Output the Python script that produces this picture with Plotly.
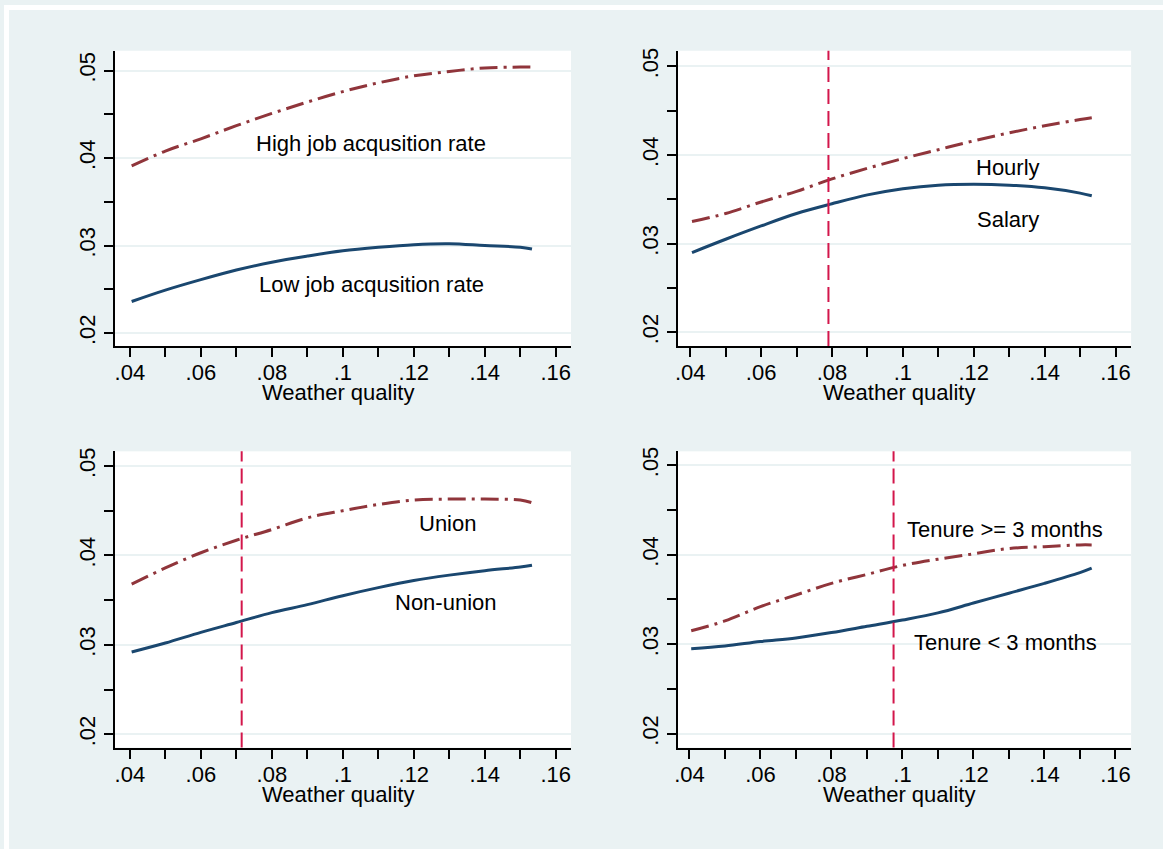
import plotly.graph_objects as go

# ---------------- data ----------------
weather = [0.0405, 0.05, 0.06, 0.07, 0.08, 0.09, 0.10, 0.11, 0.12, 0.13, 0.14, 0.15, 0.1533]

high_acq = [0.0391, 0.0408, 0.0422, 0.0437, 0.0451, 0.0464, 0.0476, 0.0486, 0.0494, 0.0499, 0.0503, 0.0504, 0.0504]
low_acq = [0.0236, 0.0249, 0.0261, 0.0272, 0.0281, 0.0288, 0.0294, 0.0298, 0.0301, 0.0302, 0.0300, 0.0298, 0.0296]

hourly = [0.0325, 0.0334, 0.0347, 0.0359, 0.0373, 0.0385, 0.0396, 0.0406, 0.0416, 0.0425, 0.0433, 0.0440, 0.0442]
salary = [0.0290, 0.0305, 0.0320, 0.0334, 0.0345, 0.0355, 0.0362, 0.0366, 0.0367, 0.0366, 0.0363, 0.0357, 0.0354]

union = [0.0368, 0.0386, 0.0403, 0.0417, 0.0429, 0.0442, 0.0450, 0.0457, 0.0462, 0.0463, 0.0463, 0.0462, 0.0459]
non_union = [0.0292, 0.0302, 0.0314, 0.0325, 0.0336, 0.0345, 0.0355, 0.0364, 0.0372, 0.0378, 0.0383, 0.0387, 0.0389]

tenure_long = [0.0315, 0.0326, 0.0342, 0.0355, 0.0368, 0.0378, 0.0388, 0.0395, 0.0401, 0.0407, 0.0409, 0.0411, 0.0411]
tenure_short = [0.0295, 0.0298, 0.0303, 0.0307, 0.0313, 0.0320, 0.0327, 0.0335, 0.0346, 0.0357, 0.0368, 0.0380, 0.0385]

# cutoff (vertical dashed line) per panel; None = no line
cutoffs = [None, 0.079, 0.0715, 0.0975]

# labels
red_labels = ["High job acqusition rate", "Hourly", "Union", "Tenure >= 3 months"]
blue_labels = ["Low job acqusition rate", "Salary", "Non-union", "Tenure < 3 months"]
red_label_pos = [(0.108, 0.0417), (0.1298, 0.0386), (0.1294, 0.0436), (0.1288, 0.0428)]
blue_label_pos = [(0.108, 0.0256), (0.1297, 0.0327), (0.1292, 0.0347), (0.1289, 0.0302)]

x_title = "Weather quality"
x_tickvals = [0.04, 0.06, 0.08, 0.10, 0.12, 0.14, 0.16]
x_ticktext = [".04", ".06", ".08", ".1", ".12", ".14", ".16"]
y_tickvals = [0.02, 0.03, 0.04, 0.05]
y_ticktext = [".02", ".03", ".04", ".05"]

red_series = [high_acq, hourly, union, tenure_long]
blue_series = [low_acq, salary, non_union, tenure_short]

# ---------------- styling ----------------
W, H = 1163, 849
BG = "#eaf2f3"
RED = "#90353b"
BLUE = "#1a476f"
CUT = "#d3164b"
FONT = "Liberation Sans, Arial, sans-serif"
FS = 22

# pixel boxes of the four plot regions: (left, right, top, bottom)
boxes = [(111, 569, 46, 343), (676, 1131, 46, 343), (111, 569, 449, 747), (676, 1131, 449, 747)]
x_ranges = [[0.0357, 0.1643], [0.03646, 0.1644], [0.0357, 0.1643], [0.03669, 0.16441]]
y_ranges = [[0.01852, 0.05227], [0.01846, 0.05176], [0.01851, 0.05164], [0.01845, 0.05155]]

fig = go.Figure()
layout = dict(
    width=W, height=H,
    margin=dict(l=0, r=0, t=0, b=0),
    paper_bgcolor=BG, plot_bgcolor="white",
    showlegend=False,
    font=dict(family=FONT, size=FS, color="black"),
    annotations=[], shapes=[],
)

for i in range(4):
    n = "" if i == 0 else str(i + 1)
    xa, ya = "x" + n, "y" + n
    l, r, t, b = boxes[i]
    xdom = [l / W, r / W]
    ydom = [1 - b / H, 1 - t / H]
    layout["xaxis" + n] = dict(
        domain=xdom, anchor=ya, range=x_ranges[i],
        tickmode="array", tickvals=x_tickvals, ticktext=x_ticktext,
        ticks="outside", ticklen=9, tickwidth=2, tickcolor="black",
        ticklabelstandoff=-3,
        minor=dict(tickmode="linear", tick0=0.04, dtick=0.01, ticks="outside",
                   ticklen=9, tickwidth=2, tickcolor="black", showgrid=False),
        showline=True, linewidth=2, linecolor="black",
        showgrid=False, zeroline=False,
        tickfont=dict(family=FONT, size=FS, color="black"),
    )
    layout["yaxis" + n] = dict(
        domain=ydom, anchor=xa, range=y_ranges[i],
        tickmode="array", tickvals=y_tickvals, ticktext=y_ticktext,
        ticks="outside", ticklen=9, tickwidth=2, tickcolor="black",
        minor=dict(tickmode="linear", tick0=0.02, dtick=0.005, ticks="outside",
                   ticklen=9, tickwidth=2, tickcolor="black", showgrid=False),
        showline=True, linewidth=2, linecolor="black",
        showgrid=True, gridcolor=BG, gridwidth=2, zeroline=False,
        tickangle=-90,
        tickfont=dict(family=FONT, size=FS, color="black"),
    )

    fig.add_trace(go.Scatter(x=weather, y=red_series[i], mode="lines", xaxis=xa, yaxis=ya,
                             line=dict(color=RED, width=3, shape="spline", dash="18px,6px,3px,6px")))
    fig.add_trace(go.Scatter(x=weather, y=blue_series[i], mode="lines", xaxis=xa, yaxis=ya,
                             line=dict(color=BLUE, width=3, shape="spline")))

    if cutoffs[i] is not None:
        layout["shapes"].append(dict(type="line", xref=xa, yref=ya + " domain",
                                     x0=cutoffs[i], x1=cutoffs[i], y0=0, y1=1,
                                     line=dict(color=CUT, width=2, dash="15px,7px")))

    rx, ry = red_label_pos[i]
    bx, by = blue_label_pos[i]
    layout["annotations"].append(dict(text=red_labels[i], x=rx, y=ry, xref=xa, yref=ya,
                                      showarrow=False, font=dict(family=FONT, size=FS, color="black")))
    layout["annotations"].append(dict(text=blue_labels[i], x=bx, y=by, xref=xa, yref=ya,
                                      showarrow=False, font=dict(family=FONT, size=FS, color="black")))
    # axis title
    layout["annotations"].append(dict(text=x_title, x=((l + r) / 2 - 5) / W, y=1 - (b + 47) / H,
                                      xref="paper", yref="paper", xanchor="center", yanchor="middle",
                                      showarrow=False, font=dict(family=FONT, size=FS, color="black")))

# thin white border at top and left of the image
layout["shapes"].append(dict(type="rect", xref="paper", yref="paper", x0=0, x1=1,
                             y0=1 - 5 / H, y1=1, line=dict(width=0), fillcolor="white"))
layout["shapes"].append(dict(type="rect", xref="paper", yref="paper", x0=0, x1=5 / W,
                             y0=0, y1=1, line=dict(width=0), fillcolor="white"))

fig.update_layout(**layout)
fig.write_html("out.html")
